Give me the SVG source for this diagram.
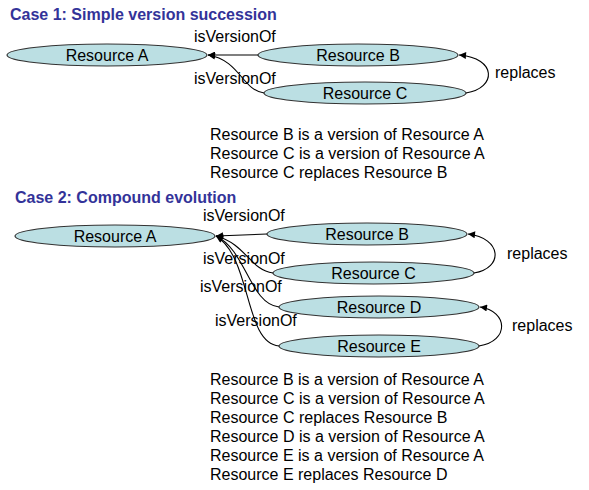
<svg xmlns="http://www.w3.org/2000/svg" width="589" height="490" viewBox="0 0 589 490">
<style>
text{font-family:"Liberation Sans",Arial,sans-serif;font-size:16px;fill:#000}
.title{font-weight:bold;fill:#333399}
.node ellipse{fill:#BBDFE3;stroke:#333;stroke-width:1.2}
.node text{text-anchor:middle}
.edge{fill:none;stroke:#000;stroke-width:1.1;marker-end:url(#arr)}
</style>
<defs>
<marker id="arr" viewBox="0 0 10 10" refX="10" refY="5" markerWidth="9" markerHeight="7" markerUnits="userSpaceOnUse" orient="auto">
<path d="M0,0 L10,5 L0,10 z" fill="#000"/>
</marker>
</defs>
<rect width="589" height="490" fill="#fff"/>

<text class="title" x="10" y="20">Case 1: Simple version succession</text>
<g id="c1-A" class="node"><ellipse cx="107" cy="55" rx="100" ry="11"/><text x="107" y="61">Resource A</text></g>
<g id="c1-B" class="node"><ellipse cx="358" cy="55" rx="100" ry="11"/><text x="358" y="61">Resource B</text></g>
<g id="c1-C" class="node"><ellipse cx="365" cy="93" rx="101" ry="11"/><text x="365" y="99">Resource C</text></g>
<g id="c1-edges">
<path class="edge" d="M258,55 L208,55"/>
<path class="edge" d="M264,93 C242,90 240,60 208,55"/>
<path class="edge" d="M466,93 C497,88 497,58 459,55"/>
<text x="194" y="42">isVersionOf</text>
<text x="194" y="84">isVersionOf</text>
<text x="495" y="78">replaces</text>
</g>
<text x="210" y="140">Resource B is a version of Resource A</text>
<text x="210" y="159">Resource C is a version of Resource A</text>
<text x="210" y="178">Resource C replaces Resource B</text>

<text class="title" x="15" y="203">Case 2: Compound evolution</text>
<g id="c2-A" class="node"><ellipse cx="115" cy="236" rx="100" ry="11"/><text x="115" y="242">Resource A</text></g>
<g id="c2-B" class="node"><ellipse cx="367" cy="234" rx="100" ry="11"/><text x="367" y="240">Resource B</text></g>
<g id="c2-C" class="node"><ellipse cx="373.5" cy="273" rx="100.5" ry="11"/><text x="373.5" y="279">Resource C</text></g>
<g id="c2-D" class="node"><ellipse cx="379" cy="307" rx="100" ry="11"/><text x="379" y="313">Resource D</text></g>
<g id="c2-E" class="node"><ellipse cx="379" cy="346" rx="100" ry="11"/><text x="379" y="352">Resource E</text></g>
<g id="c2-edges">
<path class="edge" d="M267,234 L216,236"/>
<path class="edge" d="M273,273 C250,270 246,244 216,236"/>
<path class="edge" d="M279,307 C250,304 246,250 216,236"/>
<path class="edge" d="M279,346 C244,343 252,258 216,236"/>
<path class="edge" d="M474,273 C504,268 502,238 468,234"/>
<path class="edge" d="M479,346 C510,341 508,311 480,307"/>
<text x="203" y="221">isVersionOf</text>
<text x="203" y="264">isVersionOf</text>
<text x="200" y="292">isVersionOf</text>
<text x="215" y="326">isVersionOf</text>
<text x="507" y="259">replaces</text>
<text x="512" y="331">replaces</text>
</g>
<text x="210" y="385">Resource B is a version of Resource A</text>
<text x="210" y="404">Resource C is a version of Resource A</text>
<text x="210" y="423">Resource C replaces Resource B</text>
<text x="210" y="442">Resource D is a version of Resource A</text>
<text x="210" y="461">Resource E is a version of Resource A</text>
<text x="210" y="480">Resource E replaces Resource D</text>
</svg>
